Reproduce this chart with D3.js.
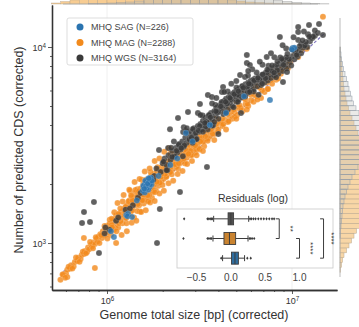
<!DOCTYPE html>
<html><head><meta charset="utf-8">
<script src="https://cdn.jsdelivr.net/npm/d3@7"></script>
<style>body{margin:0;background:#fff;} svg{display:block;font-family:"Liberation Sans",Arial,sans-serif;}</style>
</head><body>
<svg id="c" width="359" height="327"></svg>
<script>
// ---------- DATA (genome size in Mbp, number of CDS) ----------
const seriesNames = ["MHQ SAG (N=226)", "MHQ MAG (N=2288)", "MHQ WGS (N=3164)"];
const seriesColors = ["#2b74b0", "#f28a1c", "#3a3a3a"];

const magPts = [
[0.56,650],[0.58,690],[0.6,700],[0.61,730],[0.63,740],[0.64,770],[0.66,760],[0.67,800],[0.69,810],[0.7,840],[0.72,830],[0.73,870],[0.75,880],[0.76,910],[0.78,900],[0.79,950],[0.8,930],[0.82,980],[0.83,960],[0.85,1010],[0.86,990],[0.88,1050],[0.89,1020],[0.9,1080],
[0.91,1000],[0.92,1110],[0.94,1060],[0.95,1150],[0.96,1090],[0.98,1180],[0.99,1110],[1.0,1220],[1.01,1140],[1.03,1250],[1.04,1180],[1.05,1100],[1.07,1290],[1.08,1220],[1.1,1320],[1.11,1200],[1.12,1380],[1.14,1280],[1.15,1200],[1.17,1400],[1.18,1320],[1.2,1450],[1.21,1260],[1.22,1380],[1.24,1500],[1.25,1340],[1.27,1430],[1.28,1560],[1.3,1390],
[1.31,1530],[1.32,1650],[1.33,1420],[1.35,1580],[1.36,1720],[1.37,1480],[1.38,1600],[1.4,1350],[1.41,1690],[1.42,1800],[1.44,1560],[1.45,1720],[1.46,1880],[1.48,1620],[1.5,1770],[1.51,1450],[1.52,1900],[1.54,1680],[1.55,1820],[1.57,2000],[1.58,1590],[1.6,1870],[1.62,1740],[1.63,2050],[1.65,1920],[1.67,1650],[1.68,2100],[1.7,1800],[1.72,1980],[1.73,2200],[1.75,1700],[1.77,2060],[1.78,1900],[1.8,2250],[1.82,2080],[1.84,1850],[1.86,2300],[1.88,2150],[1.9,1960],[1.92,2380],[1.94,2240],[1.96,2050],[1.98,2450],[2.0,2300],[2.02,2120],[2.05,2500],[2.07,2380],[2.1,2200],[2.12,2600],[2.15,2450],[2.18,2280],
[1.02,1190],[1.06,1240],[1.09,1170],[1.13,1330],[1.16,1260],[1.19,1390],[1.23,1420],[1.26,1530],[1.29,1470],[1.34,1500],[1.39,1700],[1.43,1650],[1.47,1800],[1.49,1560],[1.53,1760],[1.56,1880],[1.59,1700],[1.64,1820],[1.69,1960],[1.76,1820],[1.79,2150],[1.83,2000],[1.87,2200],[1.91,2080],[1.95,2350],[1.99,2180],[2.03,2400],[2.08,2280],[2.13,2350],[2.17,2550],[2.25,2600],[2.35,2700],[2.45,2750],[2.55,2900],[2.68,3000],[2.78,3100],[2.92,3150],[3.03,3250],
[2.2,2680],[2.23,2520],[2.26,2380],[2.3,2750],[2.33,2600],[2.36,2450],[2.4,2850],[2.43,2700],[2.46,2540],[2.5,2950],[2.54,2800],[2.58,2620],[2.62,3050],[2.66,2880],[2.7,2720],[2.75,3150],[2.8,2980],[2.85,2800],[2.9,3280],[2.95,3100],[3.0,2900],[3.05,3400],[3.1,3200],[3.16,3000],[3.22,3520],[3.28,3320],[3.35,3120],[3.42,3600],[3.5,3400],
[3.6,3500],[3.7,3750],[3.8,3600],[3.9,3900],[4.0,3800],[4.1,4100],[4.2,3950],[4.35,4250],[4.5,4150],[4.6,4450],[4.75,4300],[4.9,4650],[5.05,4500],[5.2,4850],[5.4,4700],[5.6,5100],[5.8,5000],[6.0,5350],[6.2,5250],[6.5,5600],[6.8,5500],[7.1,5900],[7.4,6100],[7.8,6500],[8.2,6800],[8.7,7300],[9.2,7800],[9.8,8400],
[4.3,4700],[5.0,5300],[6.3,6300],[7.5,7200],[3.9,4300],[4.6,4900],[5.5,5800],
[0.75,1060],[0.61,670],[0.86,745],[14.7,14270]
];
const magPts2 = [
[1.005,1055],[1.035,1314],[1.065,1203],[1.095,1434],[1.125,1148],[1.155,1409],[1.185,1292],[1.215,1628],[1.245,1444],[1.275,1262],[1.305,1631],[1.335,1842],[1.365,1461],[1.395,1660],[1.425,1867],[1.455,1455],[1.485,1841],[1.515,1697],[1.545,2101],[1.575,1654],[1.605,1942],[1.635,2109],[1.665,1632],[1.695,1932],[1.725,2294],[1.755,1895],[1.785,2196],[1.815,1815],[1.845,2159],[1.875,2438],[1.905,2019],[1.935,2322],[1.965,2181],[1.995,1975],
[2.03,2578],[2.06,2369],[2.09,2174],[2.12,2565],[2.16,2354],[2.2,2860],[2.24,2240],[2.28,2690],[2.32,2506],[2.37,2939],[2.42,2396],[2.47,2791],[2.52,2646],[2.57,3110],[2.63,2551],[2.69,2959],[2.74,2822],[2.81,3288],[2.87,2813],[2.94,3175],[3.01,3010],[3.08,3511],[3.15,3024],[3.24,3434],[3.32,3287],[3.41,3751],[3.5,3325],[3.6,3708],[3.72,3608],[3.84,4109],[3.97,3692],[4.1,4141],[4.25,4038],[4.4,4576],[4.55,4186],[4.72,4673],[4.9,4410],[5.1,4947],[5.3,4876],[5.5,5500],[5.75,5118],[6.0,5700],[6.3,5670],[6.6,6402],[6.9,6003],[7.3,6789],[7.7,6776],[8.1,7614],[8.6,7482],[9.1,8372],[9.7,8342],[10.4,9360],[11.2,9632],
[0.575,690],[0.595,666],[0.62,756],[0.65,741],[0.68,843],[0.71,802],[0.74,903],[0.77,886],[0.81,1013],[0.84,941],[0.87,1070],[0.93,1097],[0.97,1222]
];
const magPts3 = [
[1.12,1000],[1.2,1100],[1.28,1150],[1.36,1270],[1.44,1300],[1.53,1440],[1.62,1470],[1.71,1610],[1.81,1640],[1.92,1790],[2.03,1850],[2.15,2020],[2.28,2080],[2.41,2250],[2.56,2330],[2.71,2530],[2.88,2620],[3.05,2800],
[1.14,1600],[1.23,1760],[1.32,1870],[1.41,2050],[1.5,2120],[1.6,2320],[1.7,2400],[1.81,2620],[1.92,2700],[2.04,2920],[2.17,3040],
[1.18,1500],[1.27,1340],[1.37,1650],[1.47,1580],[1.58,1760],[1.69,1750],[1.8,1990],[1.93,2030],[2.06,2250],[2.2,2420],[2.34,2520],[2.5,2650],[2.66,2800],[2.84,2950],[3.0,3150],[3.2,3300],[3.4,3500],[3.65,3800],[3.9,4050],[4.2,4300],[4.5,4550],[4.85,4800],[5.2,5050],[5.6,5400],[6.1,5800],[6.7,6200],[7.3,6600],[8.0,7100],[8.8,7700],
[3.3,2950],[3.8,3350],[4.4,3800],[5.0,4300],[5.7,4800],[6.5,5400],[7.4,6100],[8.4,6900],[9.5,7800],[10.8,8900],[12.0,9800],
[1.06,1330],[1.16,1330],[1.26,1430],[1.35,1750],[1.46,1720],[1.55,1650],[1.66,1750],[1.76,2000],[1.86,2050],[1.97,2250],[2.08,2450],[2.2,2300],[2.32,2850],[2.44,2550],[2.6,2700],[2.76,2850]
];

const wgsPts = [
[1.8,2200],[1.85,2400],[1.95,2300],[2.0,2550],[2.05,2700],
[2.1,2500],[2.15,2800],[2.2,2650],[2.25,2950],[2.3,2750],[2.35,3050],[2.4,2900],[2.45,3200],[2.5,3000],[2.55,3300],[2.6,3100],[2.65,3450],[2.7,3250],[2.75,3600],[2.8,3350],[2.85,3700],[2.9,3500],[2.95,3850],[3.0,3600],[3.05,3400],[3.1,3950],[3.15,3700],[3.2,4050],[3.25,3800],[3.3,4200],[3.35,3950],[3.4,4350],[3.45,4050],[3.5,3800],
[3.55,4450],[3.6,4150],[3.65,4600],[3.7,4300],[3.75,4000],[3.8,4700],[3.85,4450],[3.9,4900],[3.95,4600],[4.0,4300],[4.05,5000],[4.1,4750],[4.15,5150],[4.2,4850],[4.25,4550],[4.3,5300],[4.35,5000],[4.4,5450],[4.45,5100],[4.5,4800],[4.55,5550],[4.6,5200],[4.65,5700],[4.7,5350],[4.75,5000],[4.8,5800],[4.85,5450],[4.9,5900],[4.95,5600],[5.0,5250],
[5.05,6000],[5.1,5700],[5.15,5400],[5.2,6150],[5.3,5850],[5.35,5550],[5.4,6300],[5.5,6000],[5.55,5700],[5.6,6450],[5.7,6150],[5.75,5850],[5.8,6600],[5.9,6300],[5.95,6000],[6.0,6750],[6.1,6450],[6.2,6100],[6.3,6900],[6.4,6600],[6.5,6300],[6.6,7050],[6.7,6750],[6.8,6400],[6.9,7200],[7.0,6900],
[7.1,6600],[7.2,7400],[7.3,7050],[7.4,6750],[7.5,7600],[7.6,7250],[7.7,6950],[7.8,7800],[7.9,7450],[8.0,7150],[8.15,8000],[8.3,7650],[8.45,7300],[8.6,8250],[8.75,7900],[8.9,7550],[9.05,8500],[9.2,8150],[9.35,7800],[9.5,8750],[9.7,8400],[9.9,8050],[10.1,9000],[10.3,8650],[10.5,9350],[10.7,8950],[10.9,9650],[11.2,9300],[11.5,9900],[11.8,10300],[12.1,10000],[12.5,10700],[12.9,11100],[13.3,11400],[13.8,11800],
[1.12,1300],[1.26,1480],[1.38,1560],[1.47,1700],[1.6,1950],[1.72,2050],[1.03,1170],[0.97,1120],
[0.85,1619],[0.751,1439],[0.809,1280],[0.733,1265],[0.905,889],[1.864,1000],[1.93,1491],[2.48,1820],[3.47,2442],[1.91,2980],[2.19,3810],[2.14,3057],[2.58,3680],
[2.42,4340],[2.74,4660],[3.18,5120],[3.51,5690],[3.69,5560],[4.24,6250],[4.18,5890],[5.7,9110],[5.7,8290],[5.92,8100],[5.24,7190],[5.57,7040],[6.16,6790],
[8.6,11240],[10.8,12640],[12.36,12940],[14.0,13100],[14.7,11520],[10.8,11920],[8.94,6620],[9.4,7450]
];
const wgsPts2 = [
[2.02,2600],[2.12,2356],[2.22,3060],[2.33,2771],[2.44,3175],[2.57,2768],[2.68,3714],[2.79,3381],[2.91,3818],[3.04,3388],[3.17,3953],[3.29,4467],[3.42,3924],[3.56,4505],[3.71,3969],[3.86,5067],[4.01,4671],[4.17,5245],[4.33,4650],[4.49,5927],[4.66,5404],[4.83,4935],[5.01,6222],[5.19,5659],[5.38,6312],[5.58,5598],[5.78,7146],[5.99,6478],[6.21,5925],[6.44,7408],[6.68,6814],[6.93,8124],[7.19,6932],[7.46,8017],[7.74,7570],[8.03,8871],[8.33,7621],[8.64,8847],[8.96,8521],[9.3,9833],[9.65,8681],[10.0,9765],[10.4,9493],[10.8,10870],[11.2,10373],[11.7,10142],[12.2,11613],[12.7,11114],[13.3,12151],
[2.6,3900],[3.1,4600],[3.9,5500],[4.7,6500],[6.1,7700],[7.3,8900],
[1.15,1350],[1.33,1500],[1.52,1800],[1.78,2100],[0.98,1200],[2.1,2350],
[4.0,3600],[5.3,4600],[6.6,5700],[8.2,7000],
[2.3,3300],[2.7,3850],[3.2,4500],[3.7,5150],[4.3,5900],[5.0,6700],[5.8,7550],[6.7,8400],[7.7,9300],[8.9,10200],[10.2,11200],[11.6,12000],
[2.25,2750],[2.62,3150],[3.02,3650],[3.46,4150],[3.94,4650],[4.46,5150],[5.06,5700],[5.72,6250],[6.46,6800],[7.3,7400],[8.25,8100],[9.3,8850],[10.5,9700],[11.9,10600],[13.0,11300],
[2.38,2950],[2.52,3050],[2.86,3450],[3.12,3750],[3.38,4100],[3.62,4380],[3.88,4700],[4.12,4980],[4.38,5250],[4.62,5500],[4.88,5750],[5.13,5950],[5.45,6200],[5.85,6500],[6.25,6750],[6.55,6950],[6.95,7250],[7.35,7650],[7.8,8050],[8.35,8450],[8.8,8700],[9.45,9200],[10.2,9650],[11.0,10100],[11.4,10800],[12.4,11300],
[2.9,3250],[3.3,3700],[3.8,4150],[4.4,4650],[5.1,5250],[5.9,5900],[6.9,6500],[8.0,7400],[9.0,8100],[10.6,9100]
];

const sagPts = [
[1.56,1850],[1.58,1920],[1.6,1990],[1.62,1880],[1.63,2050],[1.65,1960],[1.66,2100],[1.68,2020],[1.7,1930],[1.7,2120],[1.72,2060],[1.74,1990],[1.6,1810],[1.67,1870],[1.73,2150],
[1.57,1960],[1.61,2080],[1.64,1900],[1.69,2060],[1.71,1990],[1.62,1950],[1.66,2010],[1.59,1890],[1.75,2080],[1.68,2140],
[1.27,1390],[1.3,1410],[1.29,1370],[1.365,1358],[2.67,3640],[1.09,1073],
[10.1,9870],[10.3,9900],[10.0,9700],[7.6,5370],
[2.2,2500],[2.9,3300],[3.6,4000],[4.4,4600],[1.9,2200],[2.4,2700],[5.5,5600],[1.45,1650],[1.05,1150]
];

const fitLine = [[0.578,711],[15.1,11800]];

const xMajorTicks = [1e6, 1e7];
const xMinorTicks = [6e5,7e5,8e5,9e5,2e6,3e6,4e6,5e6,6e6,7e6,8e6,9e6];
const yMajorTicks = [1e3, 1e4];
const yMinorTicks = [600,700,800,900,2000,3000,4000,5000,6000,7000,8000,9000];

// marginal histograms (bins in log10 units)
const rightBinStart = 2.85, rightBinStep = 0.025;
const rightMagCounts = [0.5,1.5,2.5,4,6.5,9,11.5,14,16.5,19.5,23,26,29,31,33,35,36,36,36,35,34,32,30,28,26,24,22,20,18,16,14,12,10,8.5,7,6,5,4,3.5,3,2.5,2,1.5,1,0.5,0.3];
const rightWgsCounts = [0,0,0,0,0,0,0,0.5,0.5,1,1.5,2,2.5,3,4,5,6.5,8,10,12,15,18,22,26,30,33,35,37,37,34,30,24,19,16,13.5,12,10.5,9,8,6.5,5,3.5,2.5,1.5,1,0.5];
const topBinStart = 5.7, topBinStep = 0.05;
const topMagCounts = [1,2.5,4,6,9,12,16,20,24,27,28,27,24,20,16,12,9,7,5,4,3,2,1.5,1,0.5,0.3,0.2,0,0,0,0];
const topWgsCounts = [0,0,0,0,0.3,0.5,1,1.5,2,3,5,8,12,16,20,23,25,25,23,20,16,12,8,5,3.5,2.5,1.5,1,0.5,0.2,0];

// residual inset
const residTicks = [-0.5, 0.0, 0.5, 1.0];
const residGroups = ["WGS", "MAG", "SAG"];
const residColors = ["#505050", "#c98330", "#2f6d9e"];
const residQ1 = [-0.04, -0.1, 0.01];
const residMed = [0.0, -0.02, 0.06];
const residQ3 = [0.04, 0.07, 0.11];
const residLo = [-0.25, -0.26, -0.12];
const residHi = [0.26, 0.25, 0.2];
const residOutWGS = [-0.68,-0.34,-0.32,-0.3,-0.28,-0.27,0.28,0.3,0.33,0.36,0.4,0.44,0.48,0.52,0.56,0.6,0.63];
const residOutMAG = [-0.69,-0.34,-0.32,-0.3,-0.28,0.27,0.29,0.31,0.34];
const residOutSAG = [-0.14,0.24,0.29];
const sigBrackets = [
  {a:"WGS", b:"MAG", x:0.705, tx:0.88, label:"**"},
  {a:"MAG", b:"SAG", x:1.0, tx:1.17, label:"****"},
  {a:"WGS", b:"SAG", x:1.35, tx:1.47, label:"****"}
];

// ---------- DRAW ----------
const svg = d3.select("#c");
const xS = d3.scaleLog().domain([5.043e5, 1.751e7]).range([52, 337]);
const yS = d3.scaleLog().domain([575.9, 16380]).range([290, 5]);

// top marginal histogram
const topG = svg.append("g");
const topBase = 4;
function drawTop(counts, fill, stroke, op) {
  topG.selectAll(null).data(counts).enter().append("rect")
    .attr("x", (d,i)=>xS(Math.pow(10, topBinStart + i*topBinStep)))
    .attr("width", (d,i)=>xS(Math.pow(10, topBinStart + (i+1)*topBinStep)) - xS(Math.pow(10, topBinStart + i*topBinStep)))
    .attr("y", d=>topBase - d).attr("height", d=>d)
    .attr("fill", fill).attr("fill-opacity", op).attr("stroke", stroke).attr("stroke-width", 0.4);
}
drawTop(topMagCounts, "#f6c37f", "#b9a98f", 0.85);
drawTop(topWgsCounts, "#b8b8b0", "#9a9a9a", 0.45);
topG.append("line").attr("x1",63).attr("x2",318).attr("y1",topBase).attr("y2",topBase).attr("stroke","#aaa").attr("stroke-width",0.8);

// right marginal histogram
const rG = svg.append("g");
const rBase = 340, rK = 1.0;
function drawRight(counts, fill, stroke, op) {
  rG.selectAll(null).data(counts).enter().append("rect")
    .attr("x", rBase)
    .attr("y", (d,i)=>yS(Math.pow(10, rightBinStart + (i+1)*rightBinStep)))
    .attr("height", (d,i)=>yS(Math.pow(10, rightBinStart + i*rightBinStep)) - yS(Math.pow(10, rightBinStart + (i+1)*rightBinStep)))
    .attr("width", d=>d*rK)
    .attr("fill", fill).attr("fill-opacity", op).attr("stroke", stroke).attr("stroke-width", 0.5);
}
drawRight(rightMagCounts, "#f7cf97", "#b8a890", 0.85);
drawRight(rightWgsCounts, "#c4c4bc", "#8f9aa6", 0.35);
rG.append("line").attr("x1",rBase).attr("x2",rBase).attr("y1",18).attr("y2",277).attr("stroke","#aaa").attr("stroke-width",0.8);

// gridlines
svg.append("g").selectAll("line").data(xMajorTicks).enter().append("line")
  .attr("x1", d=>xS(d)).attr("x2", d=>xS(d)).attr("y1", 5).attr("y2", 290)
  .attr("stroke", "#ececec").attr("stroke-width", 0.8);

// fit line
svg.append("path").datum(fitLine)
  .attr("d", d3.line().x(d=>xS(d[0]*1e6)).y(d=>yS(d[1])))
  .attr("fill","none").attr("stroke","#6a5fb0").attr("stroke-width",1.2).attr("stroke-dasharray","3,2").attr("opacity",0.85);

// scatter
function drawPts(pts, color) {
  svg.append("g").selectAll("circle").data(pts).enter().append("circle")
    .attr("cx", d=>xS(d[0]*1e6)).attr("cy", d=>yS(d[1])).attr("r", 3.0)
    .attr("fill", color).attr("fill-opacity", 0.8)
    .attr("stroke", "#fff").attr("stroke-width", 0.3).attr("stroke-opacity", 0.5);
}
drawPts(magPts, seriesColors[1]);
drawPts(magPts2, seriesColors[1]);
drawPts(magPts3, seriesColors[1]);
drawPts(wgsPts, seriesColors[2]);
drawPts(wgsPts2, seriesColors[2]);
drawPts(sagPts, seriesColors[0]);

// axes
function supFmt(sel) {
  sel.selectAll(".tick text").each(function(d){
    const t = d3.select(this); t.text(null);
    t.append("tspan").text("10");
    t.append("tspan").attr("dy","-0.5em").attr("font-size","6.3px").text(Math.round(Math.log10(d)));
  });
}
const axCol = "#333";
const gxMin = svg.append("g").attr("transform","translate(0,290)")
  .call(d3.axisBottom(xS).tickValues(xMinorTicks).tickSize(2).tickSizeOuter(0).tickFormat(""));
const gx = svg.append("g").attr("transform","translate(0,290)")
  .call(d3.axisBottom(xS).tickValues(xMajorTicks).tickSize(4).tickSizeOuter(0).tickPadding(4));
gx.call(supFmt);
const gyMin = svg.append("g").attr("transform","translate(52,0)")
  .call(d3.axisLeft(yS).tickValues(yMinorTicks).tickSize(2).tickSizeOuter(0).tickFormat(""));
const gy = svg.append("g").attr("transform","translate(52,0)")
  .call(d3.axisLeft(yS).tickValues(yMajorTicks).tickSize(4).tickSizeOuter(0).tickPadding(2));
gy.call(supFmt);
[gxMin, gx, gyMin, gy].forEach(g=>{
  g.selectAll(".domain").attr("stroke", axCol).attr("stroke-width", 1.3);
  g.selectAll(".tick line").attr("stroke", axCol).attr("stroke-width", 0.8);
  g.selectAll(".tick text").attr("fill", "#333").attr("font-size", "9px").attr("font-family","Liberation Sans, Arial, sans-serif");
});
gy.selectAll(".tick text").attr("dy","0.4em");

svg.append("text").attr("x", 194).attr("y", 319).attr("text-anchor","middle")
  .attr("font-size","12.5px").attr("fill","#333").text("Genome total size [bp] (corrected)");
svg.append("text").attr("transform","translate(23,150) rotate(-90)").attr("text-anchor","middle")
  .attr("font-size","12.5px").attr("fill","#333").text("Number of predicted CDS (corrected)");

// legend
const lg = svg.append("g");
lg.append("rect").attr("x",67).attr("y",18).attr("width",126).attr("height",47).attr("rx",2)
  .attr("fill","#fff").attr("fill-opacity",0.85).attr("stroke","#d4d4d4").attr("stroke-width",0.8);
seriesNames.forEach((n,i)=>{
  const yy = 27 + i*15.5;
  lg.append("circle").attr("cx",80).attr("cy",yy).attr("r",3.5).attr("fill",seriesColors[i]);
  lg.append("text").attr("x",91).attr("y",yy+3.2).attr("font-size","9px").attr("fill","#444").text(n);
});

// residual inset
const ins = svg.append("g");
const rx = d3.scaleLinear().domain([-0.5, 1.0]).range([196.5, 299.5]);
const ry = d3.scalePoint().domain(residGroups).range([209, 268]).padding(0.5);
ins.append("rect").attr("x",177).attr("y",209).attr("width",156).attr("height",59)
  .attr("fill","#fff").attr("stroke","#c8c8c8").attr("stroke-width",0.8);
ins.append("text").attr("x",253).attr("y",202).attr("text-anchor","middle").attr("font-size","10.5px").attr("fill","#333").text("Residuals (log)");
residTicks.forEach(v=>{
  ins.append("text").attr("x",rx(v)).attr("y",281).attr("text-anchor","middle").attr("font-size","10px").attr("fill","#444")
    .text(v.toFixed(1).replace("-","\u2212"));
});
const lineCol = "#3c3c3c";
const outs = [residOutWGS, residOutMAG, residOutSAG];
residGroups.forEach((g,i)=>{
  const cy = ry(g), bh = 12;
  ins.append("line").attr("x1",rx(residLo[i])).attr("x2",rx(residQ1[i])).attr("y1",cy).attr("y2",cy).attr("stroke",lineCol).attr("stroke-width",1);
  ins.append("line").attr("x1",rx(residQ3[i])).attr("x2",rx(residHi[i])).attr("y1",cy).attr("y2",cy).attr("stroke",lineCol).attr("stroke-width",1);
  [residLo[i], residHi[i]].forEach(v=>{
    ins.append("line").attr("x1",rx(v)).attr("x2",rx(v)).attr("y1",cy-3).attr("y2",cy+3).attr("stroke",lineCol).attr("stroke-width",1);
  });
  ins.append("rect").attr("x",rx(residQ1[i])).attr("width",rx(residQ3[i])-rx(residQ1[i])).attr("y",cy-bh/2).attr("height",bh)
    .attr("fill",residColors[i]).attr("stroke",lineCol).attr("stroke-width",0.9);
  ins.append("line").attr("x1",rx(residMed[i])).attr("x2",rx(residMed[i])).attr("y1",cy-bh/2).attr("y2",cy+bh/2).attr("stroke",lineCol).attr("stroke-width",1);
  ins.selectAll(null).data(outs[i]).enter().append("path")
    .attr("d", d=>`M${rx(d)},${cy-1.6}L${rx(d)+1.2},${cy}L${rx(d)},${cy+1.6}L${rx(d)-1.2},${cy}Z`)
    .attr("fill",lineCol);
});
sigBrackets.forEach(b=>{
  const y1 = ry(b.a), y2 = ry(b.b), x = rx(b.x), xa = rx(b.x - 0.05);
  ins.append("path").attr("d",`M${xa},${y1}L${x},${y1}L${x},${y2}L${xa},${y2}`)
    .attr("fill","none").attr("stroke",lineCol).attr("stroke-width",1);
  const tx = rx(b.tx), ty = (y1+y2)/2;
  ins.append("text").attr("transform",`translate(${tx},${ty}) rotate(90)`).attr("text-anchor","middle")
    .attr("dy","0.35em").attr("font-size","8px").attr("fill","#333").text(b.label);
});
</script>
</body></html>
